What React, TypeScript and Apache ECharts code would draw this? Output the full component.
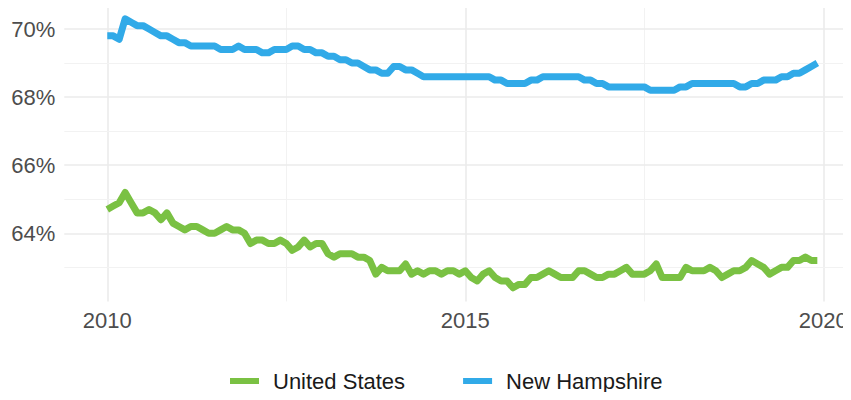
import React, { useEffect, useRef } from "react";
import * as echarts from "echarts";

const START_YEAR = 2010;
const seriesNames = ["United States", "New Hampshire"];

const unitedStates = [
  64.7, 64.8, 64.9, 65.2, 64.9, 64.6, 64.6, 64.7, 64.6, 64.4, 64.6, 64.3,
  64.2, 64.1, 64.2, 64.2, 64.1, 64.0, 64.0, 64.1, 64.2, 64.1, 64.1, 64.0,
  63.7, 63.8, 63.8, 63.7, 63.7, 63.8, 63.7, 63.5, 63.6, 63.8, 63.6, 63.7,
  63.7, 63.4, 63.3, 63.4, 63.4, 63.4, 63.3, 63.3, 63.2, 62.8, 63.0, 62.9,
  62.9, 62.9, 63.1, 62.8, 62.9, 62.8, 62.9, 62.9, 62.8, 62.9, 62.9, 62.8,
  62.9, 62.7, 62.6, 62.8, 62.9, 62.7, 62.6, 62.6, 62.4, 62.5, 62.5, 62.7,
  62.7, 62.8, 62.9, 62.8, 62.7, 62.7, 62.7, 62.9, 62.9, 62.8, 62.7, 62.7,
  62.8, 62.8, 62.9, 63.0, 62.8, 62.8, 62.8, 62.9, 63.1, 62.7, 62.7, 62.7,
  62.7, 63.0, 62.9, 62.9, 62.9, 63.0, 62.9, 62.7, 62.8, 62.9, 62.9, 63.0,
  63.2, 63.1, 63.0, 62.8, 62.9, 63.0, 63.0, 63.2, 63.2, 63.3, 63.2, 63.2,
];

const newHampshire = [
  69.8, 69.8, 69.7, 70.3, 70.2, 70.1, 70.1, 70.0, 69.9, 69.8, 69.8, 69.7,
  69.6, 69.6, 69.5, 69.5, 69.5, 69.5, 69.5, 69.4, 69.4, 69.4, 69.5, 69.4,
  69.4, 69.4, 69.3, 69.3, 69.4, 69.4, 69.4, 69.5, 69.5, 69.4, 69.4, 69.3,
  69.3, 69.2, 69.2, 69.1, 69.1, 69.0, 69.0, 68.9, 68.8, 68.8, 68.7, 68.7,
  68.9, 68.9, 68.8, 68.8, 68.7, 68.6, 68.6, 68.6, 68.6, 68.6, 68.6, 68.6,
  68.6, 68.6, 68.6, 68.6, 68.6, 68.5, 68.5, 68.4, 68.4, 68.4, 68.4, 68.5,
  68.5, 68.6, 68.6, 68.6, 68.6, 68.6, 68.6, 68.6, 68.5, 68.5, 68.4, 68.4,
  68.3, 68.3, 68.3, 68.3, 68.3, 68.3, 68.3, 68.2, 68.2, 68.2, 68.2, 68.2,
  68.3, 68.3, 68.4, 68.4, 68.4, 68.4, 68.4, 68.4, 68.4, 68.4, 68.3, 68.3,
  68.4, 68.4, 68.5, 68.5, 68.5, 68.6, 68.6, 68.7, 68.7, 68.8, 68.9, 69.0,
];

const xTickLabels = [2010, 2015, 2020];
const xMinorGrid = [2012.5, 2017.5];
const yTickLabels = [64, 66, 68, 70];
const yMinorGrid = [63, 65, 67, 69];

const colors = ["#7AC143", "#31AAE8"];
const FONT = "'Liberation Sans', Arial, sans-serif";

function toPairs(values: number[]) {
  return values.map((v, i) => [START_YEAR + i / 12, v]);
}

export default function App() {
  const ref = useRef<HTMLDivElement>(null);
  useEffect(() => {
    if (!ref.current) return;
    const chart = echarts.init(ref.current, undefined, { renderer: "svg" });
    const majorLine = { color: "#ebebeb", width: 1.6, type: "solid" as const };
    const minorLine = { color: "#f2f2f2", width: 1, type: "solid" as const };
    const gridLines = [
      ...xTickLabels.map((v) => ({ xAxis: v, lineStyle: majorLine })),
      ...xMinorGrid.map((v) => ({ xAxis: v, lineStyle: minorLine })),
      ...yTickLabels.map((v) => ({ yAxis: v, lineStyle: majorLine })),
      ...yMinorGrid.map((v) => ({ yAxis: v, lineStyle: minorLine })),
    ];
    chart.setOption({
      animation: false,
      textStyle: { fontFamily: FONT },
      grid: { left: 64.3, right: 0.5, top: 5.2, bottom: 98.6, containLabel: false },
      xAxis: {
        type: "value",
        min: 2009.4,
        max: 2020.38,
        interval: 0.2,
        axisLine: { show: false },
        axisTick: { show: false },
        splitLine: { show: false },
        axisLabel: {
          color: "#4d4d4d",
          fontSize: 22,
          fontFamily: FONT,
          margin: 8,
          showMinLabel: true,
          showMaxLabel: false,
          formatter: (v: number) => {
            const r = Math.round(v);
            return Math.abs(v - r) < 1e-6 && xTickLabels.includes(r) ? String(r) : "";
          },
        },
      },
      yAxis: {
        type: "value",
        min: 62,
        max: 70.7,
        interval: 1,
        axisLine: { show: false },
        axisTick: { show: false },
        splitLine: { show: false },
        axisLabel: {
          color: "#4d4d4d",
          fontSize: 22,
          fontFamily: FONT,
          margin: 9,
          formatter: (v: number) => {
            const r = Math.round(v);
            return Math.abs(v - r) < 1e-6 && yTickLabels.includes(r) ? r + "%" : "";
          },
        },
      },
      legend: {
        data: seriesNames,
        left: 225,
        top: 365,
        icon: "rect",
        itemWidth: 29,
        itemHeight: 6,
        itemGap: 58,
        textStyle: {
          color: "#1a1a1a",
          fontSize: 22,
          fontFamily: FONT,
          padding: [0, 0, 0, 9],
        },
      },
      series: [
        {
          type: "line",
          name: "_grid",
          data: [[2010, 64]],
          showSymbol: false,
          symbolSize: 0,
          lineStyle: { width: 0 },
          silent: true,
          z: 0,
          markLine: {
            silent: true,
            z: 0,
            symbol: "none",
            label: { show: false },
            animation: false,
            data: gridLines,
          },
        },
        ...[unitedStates, newHampshire].map((vals, i) => ({
          type: "line",
          name: seriesNames[i],
          data: toPairs(vals),
          showSymbol: false,
          symbol: "none",
          color: colors[i],
          z: 3,
          lineStyle: { width: 7, color: colors[i], cap: "butt", join: "round" },
        })),
      ],
    });
    return () => chart.dispose();
  }, []);
  return <div ref={ref} style={{ width: 851, height: 400, margin: -8 }} />;
}
